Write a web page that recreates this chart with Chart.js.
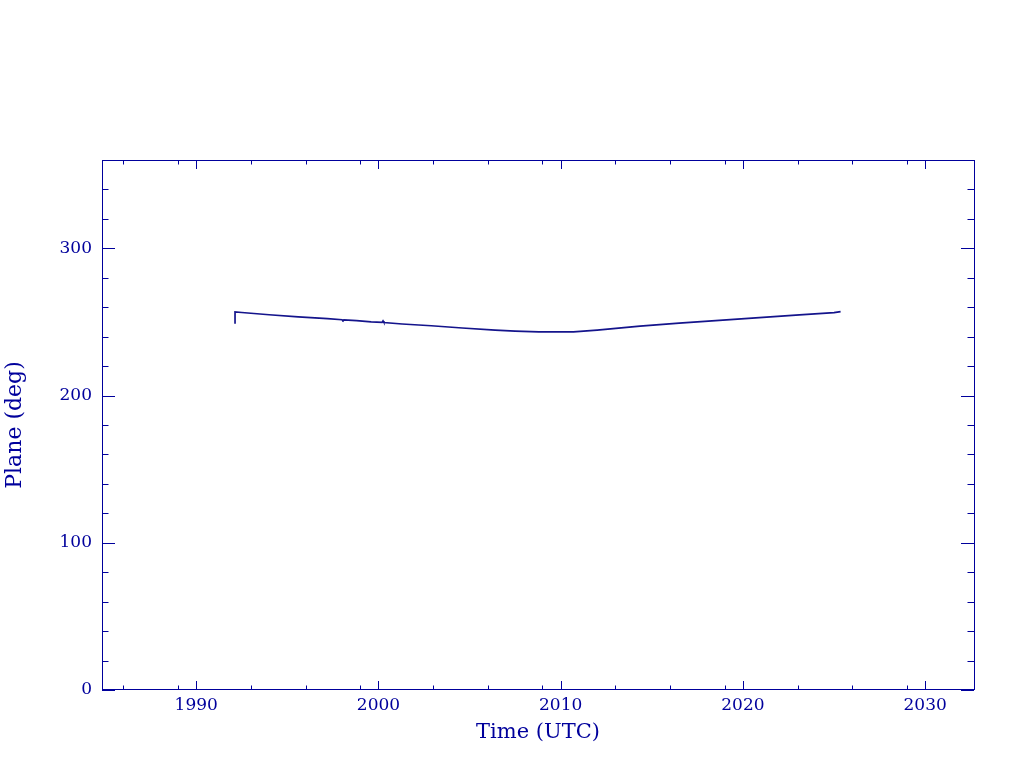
<!DOCTYPE html>
<html>
<head>
<meta charset="utf-8">
<script src="https://cdn.jsdelivr.net/npm/chart.js@4.4.0/dist/chart.umd.min.js"></script>
<style>
  html, body { margin: 0; padding: 0; background: #fff; }
  #wrap { width: 1024px; height: 768px; }
</style>
</head>
<body>
<div id="wrap"><canvas id="plot" width="1024" height="768"></canvas></div>
<script>
// data (year, plane angle in deg)
var years = [1992.13, 1992.13, 1992.5, 1994.0, 1995.6, 1997.2, 1998.0, 1998.05, 1998.1, 1998.8,
  1999.6, 2000.2, 2000.25, 2000.3, 2001.3, 2002.9, 2004.6, 2006.4, 2007.5, 2008.8,
  2009.8, 2010.7, 2012.0, 2014.35, 2016.5, 2018.7, 2020.9, 2023.1, 2025.0, 2025.36];
var plane = [248.8, 256.8, 256.4, 254.9, 253.5, 252.2, 251.5, 251.0, 251.4, 250.9,
  250.1, 249.7, 250.7, 249.6, 248.6, 247.4, 245.9, 244.5, 243.8, 243.3,
  243.2, 243.3, 244.5, 247.2, 249.2, 251.0, 253.0, 254.8, 256.3, 257.0];

var xMajor = [1990, 2000, 2010, 2020, 2030];
var yMajor = [0, 100, 200, 300];
var xRange = [1984.83, 2032.68];
var yRange = [0, 360];

var ink = '#00009c';
var lineCol = '#14148c';

var points = years.map(function (t, i) { return { x: t, y: plane[i] }; });

// frame + inward ticks on all four sides
var frame = {
  id: 'frame',
  afterDraw: function (chart) {
    var c = chart.ctx, a = chart.chartArea;
    var sx = chart.scales.x, sy = chart.scales.y;
    c.save();
    c.strokeStyle = ink;
    c.lineWidth = 1;
    c.strokeRect(a.left + 0.5, a.top + 0.5, a.right - a.left, a.bottom - a.top - 1);
    c.beginPath();
    for (var yr = Math.ceil(xRange[0]); yr <= xRange[1]; yr++) {
      var d = yr % 10;
      if (d != 0 && d != 3 && d != 6 && d != 9) continue;
      var len = d == 0 ? 9 : 4.5;
      var px = Math.round(sx.getPixelForValue(yr)) + 0.5;
      c.moveTo(px, a.bottom); c.lineTo(px, a.bottom - len);
      c.moveTo(px, a.top); c.lineTo(px, a.top + len);
    }
    for (var v = yRange[0]; v <= yRange[1]; v += 20) {
      var l2 = v % 100 == 0 ? 13 : 6.5;
      var py = Math.round(sy.getPixelForValue(v)) + 0.5;
      c.moveTo(a.left, py); c.lineTo(a.left + l2, py);
      c.moveTo(a.right, py); c.lineTo(a.right - l2, py);
    }
    c.stroke();
    c.restore();
  }
};

var ctx = document.getElementById('plot').getContext('2d');
var chart = new Chart(ctx, {
  type: 'line',
  data: {
    datasets: [{
      data: points,
      borderColor: lineCol,
      borderWidth: 1.7,
      pointRadius: 0,
      fill: false,
      tension: 0
    }]
  },
  options: {
    responsive: false,
    animation: false,
    layout: { padding: { top: 160, right: 50, left: 0, bottom: 0 } },
    plugins: { legend: { display: false }, tooltip: { enabled: false } },
    scales: {
      x: {
        type: 'linear',
        min: xRange[0],
        max: xRange[1],
        afterBuildTicks: function (s) { s.ticks = xMajor.map(function (v) { return { value: v }; }); },
        afterFit: function (s) { s.height = 78; },
        grid: { display: false, drawTicks: false },
        border: { display: false },
        ticks: {
          color: ink, padding: 5, maxRotation: 0, autoSkip: false,
          font: { family: 'DejaVu Serif', size: 17 },
          callback: function (v) { return String(v); }
        },
        title: {
          display: true, text: 'Time (UTC)', color: ink,
          font: { family: 'DejaVu Serif', size: 21 },
          padding: { top: 0, bottom: 23 }
        }
      },
      y: {
        min: yRange[0],
        max: yRange[1],
        afterBuildTicks: function (s) { s.ticks = yMajor.map(function (v) { return { value: v }; }); },
        afterFit: function (s) { s.width = 102; },
        grid: { display: false, drawTicks: false },
        border: { display: false },
        ticks: {
          color: ink, padding: 10,
          font: { family: 'DejaVu Serif', size: 17 },
          callback: function (v) { return String(v); }
        },
        title: {
          display: true, text: 'Plane (deg)', color: ink,
          font: { family: 'DejaVu Serif', size: 22 },
          padding: { top: 2, bottom: 0 }
        }
      }
    }
  },
  plugins: [frame]
});
</script>
</body>
</html>
